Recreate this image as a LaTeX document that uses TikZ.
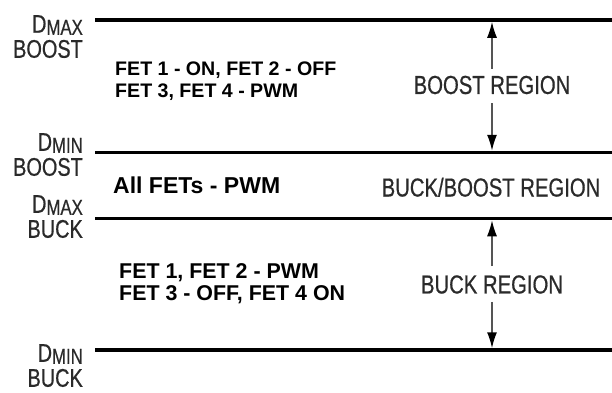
\documentclass[tikz,border=0pt]{standalone}
\usepackage{fontspec}
\setmainfont{Liberation Sans}
\newfontfamily\narrowfont{Liberation Sans}[FakeStretch=0.78, FakeBold=0.6]
\usetikzlibrary{arrows.meta, positioning, calc}
\definecolor{labelgray}{HTML}{2a2a2a}
\definecolor{shaftgray}{HTML}{555555}
\newcommand{\dlevel}[2]{D\raisebox{-2pt}{\fontsize{21.5}{21.5}\selectfont #1}\\#2}
\tikzstyle{level} = [line width=3.5pt, black]
\tikzstyle{duty} = [anchor=north east, inner sep=0pt, align=right, text=labelgray, font=\narrowfont\fontsize{25.5}{25}\selectfont]
\tikzstyle{region} = [inner sep=0pt, text=labelgray, font=\narrowfont\fontsize{26}{26}\selectfont]
\tikzstyle{fets} = [anchor=north west, inner sep=0pt, align=left, font=\bfseries\fontsize{19.6}{22}\selectfont]
\tikzstyle{pointer} = [line width=1.5pt, shaftgray, shorten >=1.75pt, -{Latex[length=16pt,width=10pt,color=black]}]

\begin{document}
\begin{tikzpicture}[x=1pt, y=1pt]
        \useasboundingbox (0,0) rectangle (612,-392);

        % Duty levels
        \coordinate (dmaxboostw) at (95,-20);
        \coordinate (dmaxbooste) at (612,-20);
        \coordinate (dminboostw) at (95,-152.5);
        \coordinate (dminbooste) at (612,-152.5);
        \coordinate (dmaxbuckw) at (95,-218.5);
        \coordinate (dmaxbucke) at (612,-218.5);
        \coordinate (dminbuckw) at (95,-350);
        \coordinate (dminbucke) at (612,-350);
        \draw [level] (dmaxboostw) -- (dmaxbooste);
        \draw [level] (dminboostw) -- (dminbooste);
        \draw [level] (dmaxbuckw) -- (dmaxbucke);
        \draw [level] (dminbuckw) -- (dminbucke);

        % Level labels (Left)
        \node (dmaxboost) [duty] at (83,-15) {\dlevel{MAX}{BOOST}};
        \node (dminboost) [duty] at (83,-133) {\dlevel{MIN}{BOOST}};
        \node (dmaxbuck) [duty] at (83,-195) {\dlevel{MAX}{BUCK}};
        \node (dminbuck) [duty] at (83,-344) {\dlevel{MIN}{BUCK}};

        % FET states (Center)
        \node (boostfets) [fets] at (115,-62) {FET 1 - ON, FET 2 - OFF\\FET 3, FET 4 - PWM};
        \node (allfets) [fets, font=\bfseries\fontsize{23}{23}\selectfont] at (113,-177) {All FETs - PWM};
        \node (buckfets) [fets, font=\bfseries\fontsize{21.4}{22.5}\selectfont] at (119,-263) {FET 1, FET 2 - PWM\\FET 3 - OFF, FET 4 ON};

        % Regions (Right)
        \node (boostreg) [region] at (492,-85) {BOOST REGION};
        \node (buckboostreg) [region, anchor=base] at (491,-196.5) {BUCK/BOOST REGION};
        \node (buckreg) [region] at (492,-284.5) {BUCK REGION};

        % Arrows
        \draw [pointer] ([yshift=7pt]boostreg.north) -- (boostreg.north |- dmaxboostw);
        \draw [pointer] ([yshift=-9pt]boostreg.south) -- (boostreg.south |- dminboostw);
        \draw [pointer] ([yshift=9pt]buckreg.north) -- (buckreg.north |- dmaxbuckw);
        \draw [pointer] ([yshift=-8pt]buckreg.south) -- (buckreg.south |- dminbuckw);

    \end{tikzpicture}
\end{document}
